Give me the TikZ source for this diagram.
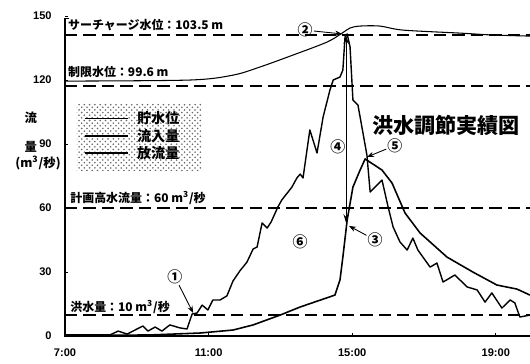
\documentclass[tikz,border=0pt]{standalone}
\usepackage{fontspec}
\setmainfont{Liberation Sans}
\newfontfamily\jp{Noto Sans CJK JP}
\usetikzlibrary{arrows.meta,patterns}

\begin{document}
\begin{tikzpicture}[x=0.718cm, y=0.04267cm,
    level/.style={dash pattern=on 7pt off 3.5pt, line width=0.9pt},
    lbl/.style={font=\jp\bfseries\fontsize{6.8}{8}\selectfont, anchor=west, inner sep=0pt},
    num/.style={font=\jp\bfseries\fontsize{8.5}{9}\selectfont, inner sep=0.5pt},
    tick/.style={font=\bfseries\fontsize{6.3}{7}\selectfont},
    pointer/.style={-{Stealth[length=4pt,width=3pt]}, line width=0.5pt}]

    \useasboundingbox (-1.3cm,-0.54cm) rectangle (9.3cm,6.72cm);

    % axes
    \draw[line width=0.6pt] (0.1,149) -- (0,149) -- (0,0) -- (12.95,0);
    \foreach \v in {0,30,...,150} {
        \draw[line width=0.5pt] (0,\v) -- (0.08,\v);
        \node[tick, anchor=east] at (-0.2,\v) {\v};
    }
    \foreach \t/\s in {0/7:00, 4/11:00, 8/15:00, 12/19:00} {
        \draw[line width=0.5pt] (\t,0) -- (\t,1.5);
        \node[tick] at (\t,-8) {\s};
    }
    \node[font=\jp\bfseries\fontsize{7}{8}\selectfont] at (-0.95,102.2) {流};
    \node[font=\jp\bfseries\fontsize{7}{8}\selectfont] at (-0.95,88.6) {量};
    \node[font=\jp\bfseries\fontsize{7}{8}\selectfont] at (-0.75,81.1) {(m\textsuperscript{3}/秒)};

    % levels
    \draw[level] (0,141) -- (12.95,141);
    \draw[level] (0,117.2) -- (12.95,117.2);
    \draw[level] (0,60) -- (12.95,60);
    \draw[level] (0,9.8) -- (12.95,9.8);
    \node[lbl] (surcharge) at (0.08,145.8) {サーチャージ水位：103.5 m};
    \node[lbl] (limit) at (0.08,123.8) {制限水位：99.6 m};
    \node[lbl] (plan) at (0.14,64.7) {計画高水流量：60 m\textsuperscript{3}/秒};
    \node[lbl] (flood) at (0.14,13.6) {洪水量：10 m\textsuperscript{3}/秒};

    % storage level
    \draw[line width=0.6pt] plot[smooth, tension=0.5] coordinates {
        (0,119.5) (3.48,120.0) (4.68,122.3) (5.43,126.1) (6.35,131.7)
        (7.30,137.8) (7.72,142.0) (7.94,144.4) (8.22,145.3) (8.77,145.3)
        (9.42,143.4) (11.00,142.0) (11.92,141.1) (12.95,140.6)};

    % inflow
    \draw[line width=0.8pt, line join=round] plot coordinates {
        (0,0.5) (1.25,0.5) (1.48,2.3) (1.73,0.9) (1.95,2.8) (2.17,4.7)
        (2.31,2.3) (2.51,4.2) (2.70,2.3) (2.92,5.2) (3.20,3.8) (3.40,3.3)
        (3.54,10.3) (3.68,10.8) (3.82,14.5) (3.98,12.2) (4.12,16.9)
        (4.32,16.9) (4.51,18.8) (4.68,25.8) (4.87,30.5) (5.07,34.7)
        (5.24,40.8) (5.35,41.7) (5.49,53.0) (5.63,50.6) (5.74,53.4)
        (5.93,60.5) (6.04,63.8) (6.32,69.8) (6.46,74.1) (6.55,75.9)
        (6.63,74.1) (6.82,96.6) (7.02,85.8) (7.19,102.7) (7.38,115.3)
        (7.47,120.0) (7.66,121.4) (7.74,124.7) (7.80,140.2) (7.86,141.6)
        (7.94,135.5) (8.02,110.6) (8.16,108.3) (8.41,84.8) (8.50,67.5)
        (8.83,73.1) (9.00,60.5) (9.14,51.1) (9.33,44.1) (9.53,40.3)
        (9.69,45.9) (9.83,40.3) (10.17,32.3) (10.36,34.2) (10.53,25.3)
        (10.86,28.6) (11.20,23.0) (11.48,21.6) (11.70,15.9) (11.89,20.2)
        (12.17,13.1) (12.40,16.9) (12.53,15.5) (12.67,8.9) (12.95,9.8)};

    % outflow
    \draw[line width=0.9pt, line join=round] plot coordinates {
        (0,0.2) (2.37,0.5) (3.76,1.4) (4.68,2.8) (5.24,5.2) (5.99,9.8)
        (6.55,13.6) (7.52,19.2) (7.66,26.3) (7.74,37.0) (7.86,54.4)
        (8.02,69.8) (8.22,77.8) (8.36,83.0) (8.83,77.8) (9.11,71.7)
        (9.47,57.7) (9.89,48.3) (10.64,37.0) (11.36,30.0) (12.03,23.9)
        (12.59,22.0) (12.95,19.2)};

    % legend
    \fill[pattern=crosshatch dots, pattern color=black!60] (0.33,77.8) rectangle (3.82,109.2);
    \draw[line width=0.5pt] (0.56,102.2) -- (1.75,102.2);
    \draw[line width=0.9pt] (0.56,93.75) -- (1.75,93.75);
    \draw[line width=1.4pt] (0.56,85.8) -- (1.75,85.8);
    \node[font=\jp\bfseries\fontsize{8}{9}\selectfont, anchor=west, inner sep=0pt] (storage) at (2.0,102.2) {貯水位};
    \node[font=\jp\bfseries\fontsize{8}{9}\selectfont, anchor=west, inner sep=0pt] (inflow) at (2.0,93.75) {流入量};
    \node[font=\jp\bfseries\fontsize{8}{9}\selectfont, anchor=west, inner sep=0pt] (outflow) at (2.0,85.8) {放流量};

    % title
    \node[font=\jp\bfseries\fontsize{12}{14}\selectfont, inner sep=0pt] (title) at (10.61,98.5) {洪水調節実績図};

    % markers
    \node[num] (c1) at (3.06,27.7) {①};
    \node[num] (c2) at (6.69,143.4) {②};
    \node[num] (c3) at (8.64,45.0) {③};
    \node[num] (c4) at (7.60,88.6) {④};
    \node[num] (c5) at (9.19,89.3) {⑤};
    \node[num] (c6) at (6.55,44.1) {⑥};
    \coordinate (p1) at (3.57,10.8);
    \coordinate (p2) at (7.72,141.6);
    \coordinate (p3) at (7.91,51.6);
    \coordinate (p5) at (8.41,83.9);
    \coordinate (qin) at (7.83,141);
    \coordinate (qout) at (7.83,53);

    \draw[pointer] (c1) -- (p1);
    \draw[pointer] (c2) -- (p2);
    \draw[pointer] (c3) -- (p3);
    \draw[pointer] (c5) -- (p5);
    \draw[{Stealth[length=5pt,width=3pt]}-{Stealth[length=5pt,width=3pt]}, line width=0.6pt] (qin) -- (qout);
\end{tikzpicture}
\end{document}
